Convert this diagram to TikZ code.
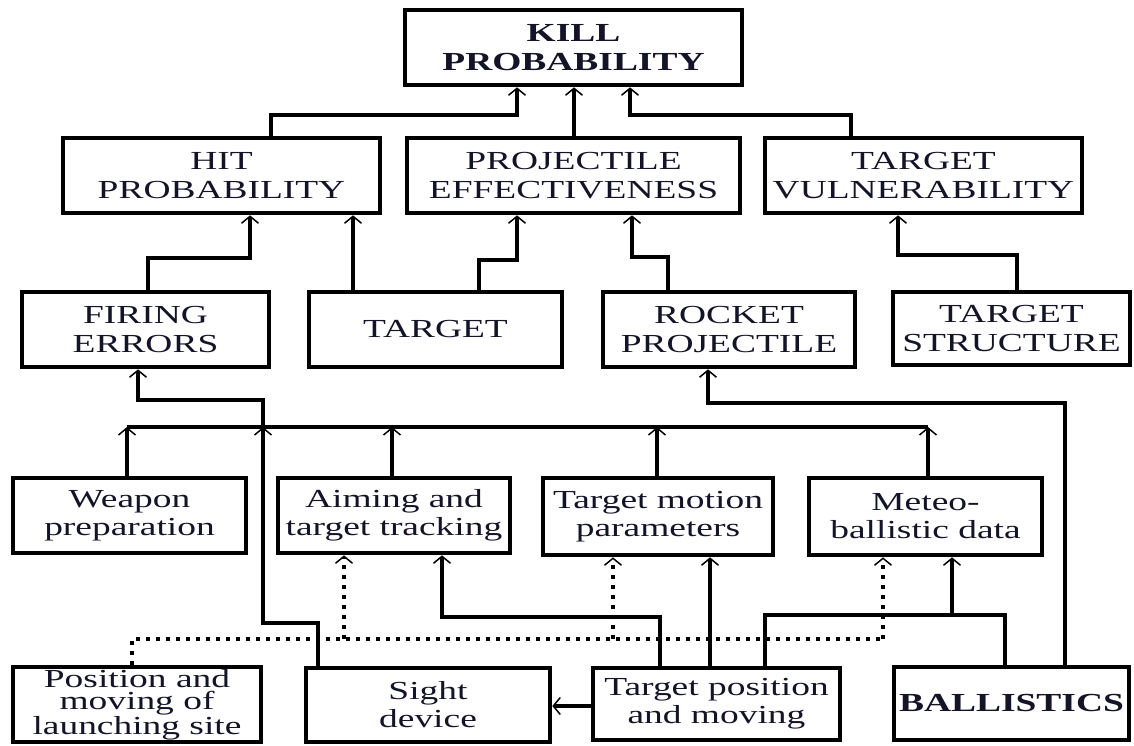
\documentclass[tikz,border=0pt]{standalone}
\usepackage{fontspec}
\setmainfont{Liberation Serif}[FakeStretch=1.44]
\usetikzlibrary{arrows.meta}
\definecolor{txt}{RGB}{20,20,40}
\begin{document}
\begin{tikzpicture}[x=1pt,y=-1pt,
  box/.style={draw=black, line width=4.6pt, inner sep=0pt, align=center, text=txt,
    font=\fontsize{26}{29}\selectfont},
  bbox/.style={box, font=\fontsize{26}{29}\selectfont\bfseries},
  lbox/.style={box, font=\fontsize{26}{28}\selectfont},
  conn/.style={line width=4.4pt, draw=black, line join=miter},
  arr/.style={conn, -{Straight Barb[length=7pt,width=17pt,line width=1.5pt]}},
  dotline/.style={line width=3.8pt, draw=black, dash pattern=on 3.8pt off 6.2pt},
  darr/.style={dotline, -{Straight Barb[length=7pt,width=17pt,line width=1.5pt]}}]
\useasboundingbox (0,0) rectangle (1134,745);
\fill[white] (0,0) rectangle (1134,745);

% columns and rows
\foreach \c in {127,132,138,148,250,263,271,318,344,353,392,442,479,517,574,613,630,632,657,660,668,708,710,765,851,883,898,928,952,1005,1017,1065}
  \coordinate (c\c) at (\c,0);
\foreach \r in {115,255,257,258,260,400,403,427,615,617,623,639,706}
  \coordinate (r\r) at (0,\r);

% boxes
\node[bbox, minimum width=337pt, minimum height=75pt] (kill) at (573.5,47.5) {KILL\\PROBABILITY};
\node[box, minimum width=317pt, minimum height=75pt] (hit) at (221.5,175.5) {HIT\\PROBABILITY};
\node[box, minimum width=333pt, minimum height=75pt] (proj) at (573.5,175.5) {PROJECTILE\\EFFECTIVENESS};
\node[box, minimum width=317pt, minimum height=75pt] (tv) at (923.5,175.5) {TARGET\\VULNERABILITY};
\node[box, minimum width=247pt, minimum height=75pt] (firing) at (145.5,329.5) {FIRING\\ERRORS};
\node[box, minimum width=253pt, minimum height=75pt] (target) at (435.5,329.5) {TARGET};
\node[box, minimum width=252pt, minimum height=75pt] (rocket) at (729,329.5) {ROCKET\\PROJECTILE};
\node[box, minimum width=237pt, minimum height=73pt] (ts) at (1011.5,328.5) {TARGET\\STRUCTURE};
\node[lbox, minimum width=233pt, minimum height=75pt] (weapon) at (129.5,515.5) {Weapon\\preparation};
\node[lbox, minimum width=232pt, minimum height=75pt] (aiming) at (394,515.5) {Aiming and\\target tracking};
\node[lbox, minimum width=230pt, minimum height=77pt] (tmp) at (658,516.5) {Target motion\\parameters};
\node[lbox, minimum width=233pt, minimum height=77pt] (meteo) at (925.5,516.5) {Meteo-\\ballistic data};
\node[box, font=\fontsize{26}{22}\selectfont, minimum width=248pt, minimum height=75pt] (pos) at (137,704.5) {Position and\\moving of\\launching site};
\node[lbox, minimum width=244pt, minimum height=74pt] (sight) at (428,705) {Sight\\device};
\node[lbox, minimum width=247pt, minimum height=72pt] (tpos) at (716.5,704) {Target position\\and moving};
\node[bbox, minimum width=235pt, minimum height=73pt] (ball) at (1011.5,703.5) {BALLISTICS};

% top level
\draw[arr] (hit.north -| c271) -- (r115 -| c271) -- (r115 -| c517) -- (kill.south -| c517);
\draw[arr] (proj.north -| c574) -- (kill.south -| c574);
\draw[arr] (tv.north -| c851) -- (r115 -| c851) -- (r115 -| c630) -- (kill.south -| c630);

% second level
\draw[arr] (firing.north -| c148) -- (r258 -| c148) -- (r258 -| c250) -- (hit.south -| c250);
\draw[arr] (target.north -| c353) -- (hit.south -| c353);
\draw[arr] (target.north -| c479) -- (r260 -| c479) -- (r260 -| c517) -- (proj.south -| c517);
\draw[arr] (rocket.north -| c668) -- (r257 -| c668) -- (r257 -| c632) -- (proj.south -| c632);
\draw[arr] (ts.north -| c1017) -- (r255 -| c1017) -- (r255 -| c898) -- (tv.south -| c898);

% bus
\draw[conn] (r427 -| c127) -- (r427 -| c928);
\draw[arr] (weapon.north -| c127) -- (r427 -| c127);
\draw[arr] (aiming.north -| c392) -- (r427 -| c392);
\draw[arr] (tmp.north -| c657) -- (r427 -| c657);
\draw[arr] (meteo.north -| c928) -- (r427 -| c928);
\draw[arr] (sight.north -| c318) -- (r623 -| c318) -- (r623 -| c263) -- (r427 -| c263);
\draw[arr] (r427 -| c263) -- (r400 -| c263) -- (r400 -| c138) -- (firing.south -| c138);
\draw[arr] (ball.north -| c1065) -- (r403 -| c1065) -- (r403 -| c708) -- (rocket.south -| c708);

% bottom level
\draw[arr] (tpos.north -| c660) -- (r617 -| c660) -- (r617 -| c442) -- (aiming.south -| c442);
\draw[arr] (tpos.north -| c710) -- (tmp.south -| c710);
\draw[arr] (tpos.north -| c765) -- (r615 -| c765) -- (r615 -| c952) -- (meteo.south -| c952);
\draw[conn] (ball.north -| c1005) -- (r615 -| c1005) -- (r615 -| c952);
\draw[arr] (tpos.west |- r706) -- (sight.east |- r706);

% dotted
\draw[dotline] (pos.north -| c132) -- (r639 -| c132) -- (r639 -| c883);
\draw[darr] (r639 -| c344) -- (aiming.south -| c344);
\draw[darr] (r639 -| c613) -- (tmp.south -| c613);
\draw[darr] (r639 -| c883) -- (meteo.south -| c883);
\end{tikzpicture}
\end{document}
